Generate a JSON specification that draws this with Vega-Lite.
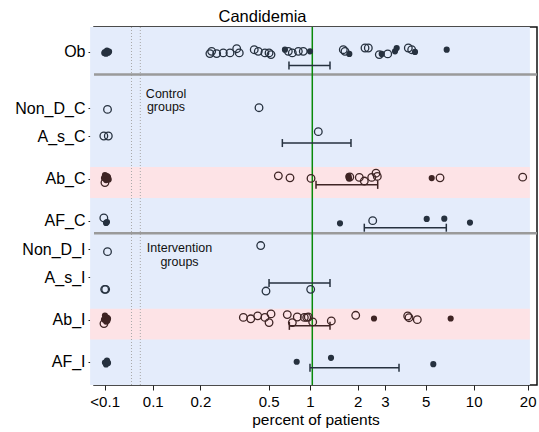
{
  "$schema": "https://vega.github.io/schema/vega-lite/v6.json",
  "autosize": "none",
  "width": 443,
  "height": 358,
  "padding": {"left": 94, "top": 27, "right": 2, "bottom": 47},
  "background": "white",
  "config": {
    "view": {"stroke": "#111111", "strokeWidth": 1.5},
    "font": "Liberation Sans",
    "axis": {"grid": false, "domain": false, "tickColor": "#222222", "labelColor": "#000000", "labelFont": "Liberation Sans", "labelFontSize": 15, "titleFont": "Liberation Sans", "titleFontSize": 15.5, "titleFontWeight": "normal", "titleColor": "#000000"}
  },
  "title": {"text": "Candidemia", "font": "Liberation Sans", "fontSize": 16.5, "fontWeight": "normal", "color": "#000000", "frame": "group", "anchor": "middle", "dx": -53, "baseline": "alphabetic", "offset": -12},
  "datasets": {
    "bg": [{"x": 0.04, "x2": 25, "y": -1.77, "y2": 23.65}],
    "bands": [{"x": 0.04, "x2": 25, "y": 8.17, "y2": 10.38}, {"x": 0.04, "x2": 25, "y": 18.23, "y2": 20.42}],
    "dots": [{"x": 0.0733, "y": -1.77, "y2": 23.65}, {"x": 0.0834, "y": -1.77, "y2": 23.65}],
    "ref": [{"x": 1.034, "y": -1.77, "y2": 23.65}],
    "sep": [{"x": 0.04234, "x2": 27.74, "y": 1.606}, {"x": 0.04234, "x2": 27.74, "y": 12.88}],
    "eb": [
      {"x": 0.735, "x2": 1.34, "y": 0.97, "g": "N"},
      {"x": 0.667, "x2": 1.822, "y": 6.47, "g": "N"},
      {"x": 1.092, "x2": 2.694, "y": 9.44, "g": "Ab"},
      {"x": 2.214, "x2": 7.355, "y": 12.48, "g": "N"},
      {"x": 0.549, "x2": 1.34, "y": 16.41, "g": "N"},
      {"x": 0.739, "x2": 1.34, "y": 19.45, "g": "Ab"},
      {"x": 1.0, "x2": 3.68, "y": 22.43, "g": "N"}
    ],
    "notes": [
      {"x": 0.1215, "y": 2.985, "t": ["Control", "groups"]},
      {"x": 0.148, "y": 13.94, "t": ["Intervention", "groups"]}
    ],
    "pts": [
      {"x": 0.0497, "y": 0.01, "f": 1, "g": "N"},
      {"x": 0.0512, "y": -0.09, "f": 1, "g": "N"},
      {"x": 0.052, "y": 0.06, "f": 1, "g": "N"},
      {"x": 0.0505, "y": 0.13, "f": 1, "g": "N"},
      {"x": 0.0528, "y": -0.02, "f": 1, "g": "N"},
      {"x": 0.0492, "y": 0.08, "f": 1, "g": "N"},
      {"x": 0.231, "y": 0.12, "f": 0, "g": "N"},
      {"x": 0.237, "y": -0.04, "f": 0, "g": "N"},
      {"x": 0.255, "y": 0.12, "f": 0, "g": "N"},
      {"x": 0.281, "y": 0.07, "f": 0, "g": "N"},
      {"x": 0.31, "y": 0.07, "f": 0, "g": "N"},
      {"x": 0.342, "y": -0.23, "f": 0, "g": "N"},
      {"x": 0.355, "y": 0.07, "f": 0, "g": "N"},
      {"x": 0.442, "y": -0.16, "f": 0, "g": "N"},
      {"x": 0.469, "y": -0.04, "f": 0, "g": "N"},
      {"x": 0.517, "y": 0.07, "f": 0, "g": "N"},
      {"x": 0.549, "y": 0.07, "f": 0, "g": "N"},
      {"x": 0.565, "y": 0.19, "f": 0, "g": "N"},
      {"x": 0.693, "y": -0.16, "f": 1, "g": "N"},
      {"x": 0.728, "y": -0.04, "f": 0, "g": "N"},
      {"x": 0.772, "y": 0.07, "f": 0, "g": "N"},
      {"x": 0.843, "y": -0.04, "f": 0, "g": "N"},
      {"x": 0.906, "y": -0.04, "f": 0, "g": "N"},
      {"x": 1.0, "y": -0.04, "f": 1, "g": "N"},
      {"x": 1.628, "y": -0.16, "f": 0, "g": "N"},
      {"x": 1.669, "y": -0.04, "f": 0, "g": "N"},
      {"x": 1.778, "y": 0.14, "f": 1, "g": "N"},
      {"x": 2.237, "y": -0.28, "f": 0, "g": "N"},
      {"x": 2.348, "y": -0.28, "f": 0, "g": "N"},
      {"x": 2.758, "y": 0.19, "f": 0, "g": "N"},
      {"x": 2.857, "y": 0.14, "f": 1, "g": "N"},
      {"x": 3.119, "y": 0.14, "f": 0, "g": "N"},
      {"x": 3.471, "y": -0.04, "f": 1, "g": "N"},
      {"x": 3.557, "y": -0.28, "f": 1, "g": "N"},
      {"x": 4.217, "y": -0.28, "f": 0, "g": "N"},
      {"x": 4.43, "y": -0.16, "f": 0, "g": "N"},
      {"x": 4.651, "y": 0.0, "f": 1, "g": "N"},
      {"x": 7.396, "y": -0.16, "f": 1, "g": "N"},
      {"x": 0.0516, "y": 4.08, "f": 0, "g": "N"},
      {"x": 0.474, "y": 3.96, "f": 0, "g": "N"},
      {"x": 0.0489, "y": 5.97, "f": 0, "g": "N"},
      {"x": 0.0522, "y": 5.97, "f": 0, "g": "N"},
      {"x": 1.129, "y": 5.66, "f": 0, "g": "N"},
      {"x": 0.0497, "y": 8.75, "f": 1, "g": "Ab"},
      {"x": 0.052, "y": 8.89, "f": 1, "g": "Ab"},
      {"x": 0.0505, "y": 9.03, "f": 1, "g": "Ab"},
      {"x": 0.049, "y": 8.96, "f": 1, "g": "Ab"},
      {"x": 0.0512, "y": 8.82, "f": 1, "g": "Ab"},
      {"x": 0.0505, "y": 9.1, "f": 1, "g": "Ab"},
      {"x": 0.0525, "y": 9.05, "f": 1, "g": "Ab"},
      {"x": 0.0497, "y": 9.28, "f": 0, "g": "Ab"},
      {"x": 0.629, "y": 8.8, "f": 0, "g": "Ab"},
      {"x": 0.746, "y": 8.94, "f": 0, "g": "Ab"},
      {"x": 1.015, "y": 8.98, "f": 0, "g": "Ab"},
      {"x": 1.76, "y": 8.82, "f": 1, "g": "Ab"},
      {"x": 1.79, "y": 8.88, "f": 0, "g": "Ab"},
      {"x": 1.77, "y": 8.99, "f": 1, "g": "Ab"},
      {"x": 2.058, "y": 8.91, "f": 0, "g": "Ab"},
      {"x": 2.214, "y": 9.17, "f": 0, "g": "Ab"},
      {"x": 2.467, "y": 8.91, "f": 0, "g": "Ab"},
      {"x": 2.628, "y": 8.61, "f": 0, "g": "Ab"},
      {"x": 2.678, "y": 8.84, "f": 0, "g": "Ab"},
      {"x": 5.94, "y": 8.96, "f": 1, "g": "Ab"},
      {"x": 6.708, "y": 8.94, "f": 0, "g": "Ab"},
      {"x": 22.5, "y": 8.89, "f": 0, "g": "Ab"},
      {"x": 0.0489, "y": 11.79, "f": 0, "g": "N"},
      {"x": 0.0505, "y": 12.14, "f": 1, "g": "N"},
      {"x": 0.0512, "y": 12.08, "f": 1, "g": "N"},
      {"x": 1.551, "y": 12.17, "f": 1, "g": "N"},
      {"x": 2.504, "y": 11.98, "f": 0, "g": "N"},
      {"x": 5.52, "y": 11.86, "f": 1, "g": "N"},
      {"x": 7.14, "y": 11.84, "f": 1, "g": "N"},
      {"x": 10.4, "y": 12.12, "f": 1, "g": "N"},
      {"x": 0.0516, "y": 14.18, "f": 0, "g": "N"},
      {"x": 0.486, "y": 13.75, "f": 0, "g": "N"},
      {"x": 0.0495, "y": 16.86, "f": 0, "g": "N"},
      {"x": 0.0502, "y": 16.86, "f": 0, "g": "N"},
      {"x": 0.525, "y": 16.98, "f": 0, "g": "N"},
      {"x": 1.01, "y": 16.86, "f": 0, "g": "N"},
      {"x": 0.0497, "y": 18.72, "f": 1, "g": "Ab"},
      {"x": 0.0512, "y": 18.86, "f": 1, "g": "Ab"},
      {"x": 0.049, "y": 19.0, "f": 1, "g": "Ab"},
      {"x": 0.0505, "y": 19.15, "f": 1, "g": "Ab"},
      {"x": 0.052, "y": 18.94, "f": 1, "g": "Ab"},
      {"x": 0.0515, "y": 19.08, "f": 1, "g": "Ab"},
      {"x": 0.049, "y": 19.29, "f": 0, "g": "Ab"},
      {"x": 0.377, "y": 18.85, "f": 0, "g": "Ab"},
      {"x": 0.42, "y": 18.95, "f": 0, "g": "Ab"},
      {"x": 0.465, "y": 18.74, "f": 0, "g": "Ab"},
      {"x": 0.517, "y": 18.85, "f": 0, "g": "Ab"},
      {"x": 0.565, "y": 18.6, "f": 0, "g": "Ab"},
      {"x": 0.549, "y": 19.22, "f": 0, "g": "Ab"},
      {"x": 0.717, "y": 18.65, "f": 0, "g": "Ab"},
      {"x": 0.772, "y": 19.22, "f": 0, "g": "Ab"},
      {"x": 0.83, "y": 18.82, "f": 0, "g": "Ab"},
      {"x": 0.92, "y": 18.85, "f": 0, "g": "Ab"},
      {"x": 0.953, "y": 18.85, "f": 0, "g": "Ab"},
      {"x": 0.975, "y": 18.82, "f": 0, "g": "Ab"},
      {"x": 1.04, "y": 19.17, "f": 0, "g": "Ab"},
      {"x": 1.366, "y": 19.1, "f": 0, "g": "Ab"},
      {"x": 1.952, "y": 18.7, "f": 0, "g": "Ab"},
      {"x": 2.552, "y": 18.93, "f": 1, "g": "Ab"},
      {"x": 4.179, "y": 18.75, "f": 0, "g": "Ab"},
      {"x": 4.26, "y": 18.87, "f": 0, "g": "Ab"},
      {"x": 4.81, "y": 19.01, "f": 0, "g": "Ab"},
      {"x": 7.84, "y": 18.93, "f": 1, "g": "Ab"},
      {"x": 0.0497, "y": 22.05, "f": 1, "g": "N"},
      {"x": 0.0512, "y": 21.91, "f": 1, "g": "N"},
      {"x": 0.0505, "y": 22.19, "f": 1, "g": "N"},
      {"x": 0.052, "y": 22.08, "f": 1, "g": "N"},
      {"x": 0.823, "y": 22.0, "f": 1, "g": "N"},
      {"x": 1.36, "y": 21.72, "f": 1, "g": "N"},
      {"x": 6.08, "y": 22.17, "f": 1, "g": "N"}
    ]
  },
  "encoding": {
    "x": {"field": "x", "type": "quantitative", "scale": {"type": "log", "domain": [0.04234, 27.74]},
      "axis": {"title": "percent of patients", "values": [0.0495, 0.1, 0.2008, 0.546, 1, 2.01, 2.99, 5.44, 10.98, 24.2],
        "labelExpr": "datum.value < 0.07 ? '<0.1' : datum.value < 0.15 ? '0.1' : datum.value < 0.3 ? '0.2' : datum.value < 0.8 ? '0.5' : datum.value < 1.5 ? '1' : datum.value < 2.5 ? '2' : datum.value < 4 ? '3' : datum.value < 8 ? '5' : datum.value < 15 ? '10' : '20'",
        "tickSize": 5, "labelPadding": 4, "labelFlush": false, "labelOverlap": false, "titlePadding": 3}},
    "y": {"field": "y", "type": "quantitative", "scale": {"domain": [-1.77, 23.65], "reverse": true, "nice": false, "zero": false},
      "axis": {"title": null, "values": [0, 4, 6, 9, 12, 14, 16, 19, 22], "tickSize": 6, "labelPadding": 3, "labelFontSize": 16, "labelOverlap": false, "labelFlush": false,
        "labelExpr": "datum.value == 0 ? 'Ob' : datum.value == 4 ? 'Non_D_C' : datum.value == 6 ? 'A_s_C' : datum.value == 9 ? 'Ab_C' : datum.value == 12 ? 'AF_C' : datum.value == 14 ? 'Non_D_I' : datum.value == 16 ? 'A_s_I' : datum.value == 19 ? 'Ab_I' : 'AF_I'"}}
  },
  "layer": [
    {"data": {"name": "bg"}, "mark": {"type": "rect", "color": "#e4ecfb"}, "encoding": {"x2": {"field": "x2"}, "y2": {"field": "y2"}}},
    {"data": {"name": "bands"}, "mark": {"type": "rect", "color": "#fde3e6"}, "encoding": {"x2": {"field": "x2"}, "y2": {"field": "y2"}}},
    {"data": {"name": "dots"}, "mark": {"type": "rule", "color": "#a8a8a8", "strokeWidth": 1, "strokeDash": [1, 2]}, "encoding": {"y2": {"field": "y2"}}},
    {"data": {"name": "sep"}, "mark": {"type": "rule", "color": "#9a9a9a", "strokeWidth": 2.5}, "encoding": {"x2": {"field": "x2"}}},
    {"data": {"name": "ref"}, "mark": {"type": "rule", "color": "#0a8a0a", "strokeWidth": 1.5}, "encoding": {"y2": {"field": "y2"}}},
    {"data": {"name": "eb"}, "mark": {"type": "rule", "strokeWidth": 1.5}, "encoding": {"x2": {"field": "x2"},
      "color": {"field": "g", "type": "nominal", "scale": {"domain": ["N", "Ab"], "range": ["#26313f", "#3e2424"]}, "legend": null}}},
    {"data": {"name": "eb"}, "transform": [{"fold": ["x", "x2"], "as": ["k", "x"]}], "mark": {"type": "tick", "orient": "vertical", "size": 8, "thickness": 1.5, "opacity": 1},
      "encoding": {"color": {"field": "g", "type": "nominal", "scale": {"domain": ["N", "Ab"], "range": ["#26313f", "#3e2424"]}, "legend": null}}},
    {"data": {"name": "pts"}, "transform": [{"filter": "datum.f == 0"}], "mark": {"type": "point", "shape": "circle", "filled": false, "size": 58, "strokeWidth": 1.3, "opacity": 1},
      "encoding": {"color": {"field": "g", "type": "nominal", "scale": {"domain": ["N", "Ab"], "range": ["#1d2838", "#3b1f1f"]}, "legend": null}}},
    {"data": {"name": "pts"}, "transform": [{"filter": "datum.f == 1"}], "mark": {"type": "circle", "size": 38, "opacity": 1},
      "encoding": {"color": {"field": "g", "type": "nominal", "scale": {"domain": ["N", "Ab"], "range": ["#1d2838", "#3b1f1f"]}, "legend": null}}},
    {"data": {"name": "notes"}, "mark": {"type": "text", "font": "Liberation Sans", "fontSize": 12.5, "align": "center", "baseline": "middle", "lineHeight": 13.3, "color": "#111111"},
      "encoding": {"text": {"field": "t"}}}
  ]
}
